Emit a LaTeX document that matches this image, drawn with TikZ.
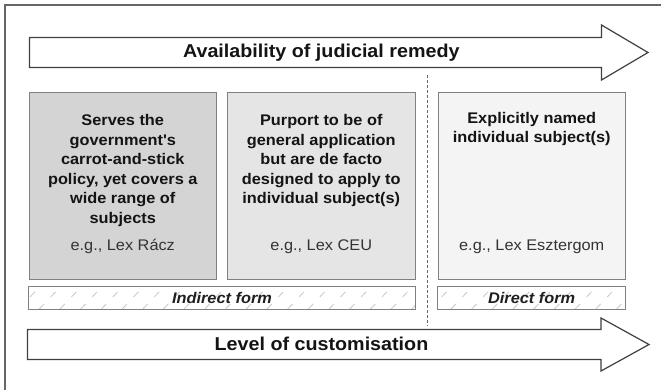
\documentclass[tikz,border=0pt]{standalone}
\usepackage{fontspec}
\setmainfont{Liberation Sans}[FakeStretch=1.06]
\begin{document}
\begin{tikzpicture}[x=1pt,y=-1pt,
  every node/.style={inner sep=0pt, outer sep=0pt},
  bigtxt/.style={font=\fontsize{18.6}{22}\selectfont\bfseries, text=black!92},
  boxtxt/.style={font={\fontsize{15.4}{19.5}\selectfont\bfseries}, align=center, text=black!92},
  egtxt/.style={font=\fontsize{15.4}{18}\selectfont, text=black!80},
  formtxt/.style={font=\fontsize{15.4}{18}\selectfont\bfseries\itshape, text=black!88},
  catbox/.style={draw=black!50, line width=1pt, anchor=north west},
  arrowline/.style={draw=black!75, line width=1.2pt, fill=white, line join=miter},
  hatch/.style={draw=black!22, line width=0.8pt, dash pattern=on 7pt off 9.6pt},
  sepline/.style={draw=black!60, line width=0.9pt, dash pattern=on 3pt off 2pt},
]
\useasboundingbox (0,0) rectangle (661,390);
\fill[white] (0,0) rectangle (661,390);
\draw[black!60, line width=1.3pt] (661,5) -- (5,5) -- (5,390);

% top arrow
\draw[arrowline] (29.5,37.5) -- (601.5,37.5) -- (601.5,25) -- (648,52.5) -- (601.5,80) -- (601.5,67.5) -- (29.5,67.5) -- cycle;
\node[bigtxt, anchor=base] (avail) at (321.3,57.3) {Availability of judicial remedy};

% bottom arrow
\draw[arrowline] (27.5,329.5) -- (601,329.5) -- (601,318) -- (649,344.5) -- (601,371) -- (601,359.5) -- (27.5,359.5) -- cycle;
\node[bigtxt, anchor=base] (level) at (321.5,350) {Level of customisation};

% category boxes
\node[catbox, fill=black!17, minimum width=187.5pt, minimum height=186.5pt] (b1) at (29,92.5) {};
\node[catbox, fill=black!10, minimum width=187.5pt, minimum height=186.5pt] (b2) at (227.5,92.5) {};
\node[catbox, fill=black!4.5, minimum width=187.5pt, minimum height=186.5pt] (b3) at (438,92.5) {};

\node[boxtxt, anchor=north] (t1) at (122.75,114.8) {Serves the\\government\textquotesingle s\\carrot-and-stick\\policy, yet covers a\\wide range of\\subjects};
\node[egtxt, anchor=base] (e1) at (122.75,251) {e.g., Lex Rácz};

\node[boxtxt, anchor=north] (t2) at (321.25,114.8) {Purport to be of\\general application\\but are de facto\\designed to apply to\\individual subject(s)};
\node[egtxt, anchor=base] (e2) at (321.25,251) {e.g., Lex CEU};

\node[boxtxt, anchor=north] (t3) at (531.75,112) {Explicitly named\\individual subject(s)};
\node[egtxt, anchor=base] (e3) at (531.75,251) {e.g., Lex Esztergom};

% separator
\coordinate (sepT) at (427,75);
\coordinate (sepB) at (427,326);
\draw[sepline] (sepT) -- (sepB);

% form boxes with hatching
\begin{scope}
\clip (28.7,286) rectangle (415,309);
\foreach \k in {-2,...,19} \draw[hatch] ({39.3+20.7*\k},309) -- ++(22.8,-24);
\end{scope}
\begin{scope}
\clip (437.7,286) rectangle (625.5,309);
\foreach \k in {-2,...,9} \draw[hatch] ({451+20.7*\k},309) -- ++(22.8,-24);
\end{scope}
\node[catbox, minimum width=386.3pt, minimum height=23pt] (f1) at (28.7,286) {};
\node[catbox, minimum width=187.8pt, minimum height=23pt] (f2) at (437.7,286) {};
\node[formtxt, anchor=base] (ft1) at (222,303.3) {Indirect form};
\node[formtxt, anchor=base] (ft2) at (531.7,303.3) {Direct form};
\end{tikzpicture}
\end{document}
